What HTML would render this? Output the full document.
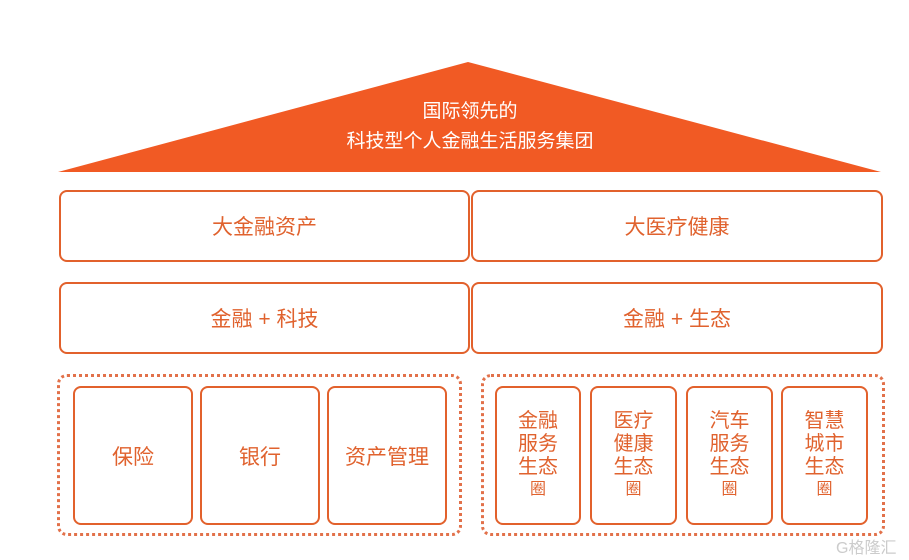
<!DOCTYPE html><html><head><meta charset="utf-8"><style>
body{margin:0;width:909px;height:560px;background:#fff;position:relative;overflow:hidden;font-family:"Liberation Sans","Noto Sans CJK SC",sans-serif;color:#e0622e}
.b{position:absolute;box-sizing:border-box;border:2.5px solid #e2612c;border-radius:8px;display:flex;align-items:center;justify-content:center;font-size:21px;background:#fff}
.d{position:absolute;box-sizing:border-box;border:3px dotted #e2714a;border-radius:10px}
.v{flex-direction:column;line-height:23px;font-size:20px}
.v small{font-size:16px;line-height:22px}
</style></head><body>
<svg width="909" height="180" style="position:absolute;left:0;top:0"><polygon points="468,62 58,172 881,172" fill="#f15a24"/>
<text x="470" y="117" fill="#fff" font-size="19" text-anchor="middle" font-family="Liberation Sans,Noto Sans CJK SC,sans-serif">国际领先的</text>
<text x="470" y="147" fill="#fff" font-size="19" text-anchor="middle" font-family="Liberation Sans,Noto Sans CJK SC,sans-serif">科技型个人金融生活服务集团</text></svg>
<div class="b" style="left:59px;top:190px;width:411px;height:72px">大金融资产</div>
<div class="b" style="left:471px;top:190px;width:412px;height:72px">大医疗健康</div>
<div class="b" style="left:59px;top:282px;width:411px;height:72px">金融 + 科技</div>
<div class="b" style="left:471px;top:282px;width:412px;height:72px">金融 + 生态</div>
<div class="d" style="left:57px;top:374px;width:405px;height:162px"></div>
<div class="d" style="left:481px;top:374px;width:404px;height:162px"></div>
<div class="b" style="left:73px;top:386px;width:120px;height:139px">保险</div>
<div class="b" style="left:200px;top:386px;width:120px;height:139px">银行</div>
<div class="b" style="left:327px;top:386px;width:120px;height:139px">资产管理</div>
<div class="b v" style="left:495px;top:386px;width:86px;height:139px"><span>金融</span><span>服务</span><span>生态</span><small>圈</small></div>
<div class="b v" style="left:590px;top:386px;width:87px;height:139px"><span>医疗</span><span>健康</span><span>生态</span><small>圈</small></div>
<div class="b v" style="left:686px;top:386px;width:87px;height:139px"><span>汽车</span><span>服务</span><span>生态</span><small>圈</small></div>
<div class="b v" style="left:781px;top:386px;width:87px;height:139px"><span>智慧</span><span>城市</span><span>生态</span><small>圈</small></div>
<div style="position:absolute;left:836px;top:534px;font-size:16px;color:#ccc">G格隆汇</div>
</body></html>
